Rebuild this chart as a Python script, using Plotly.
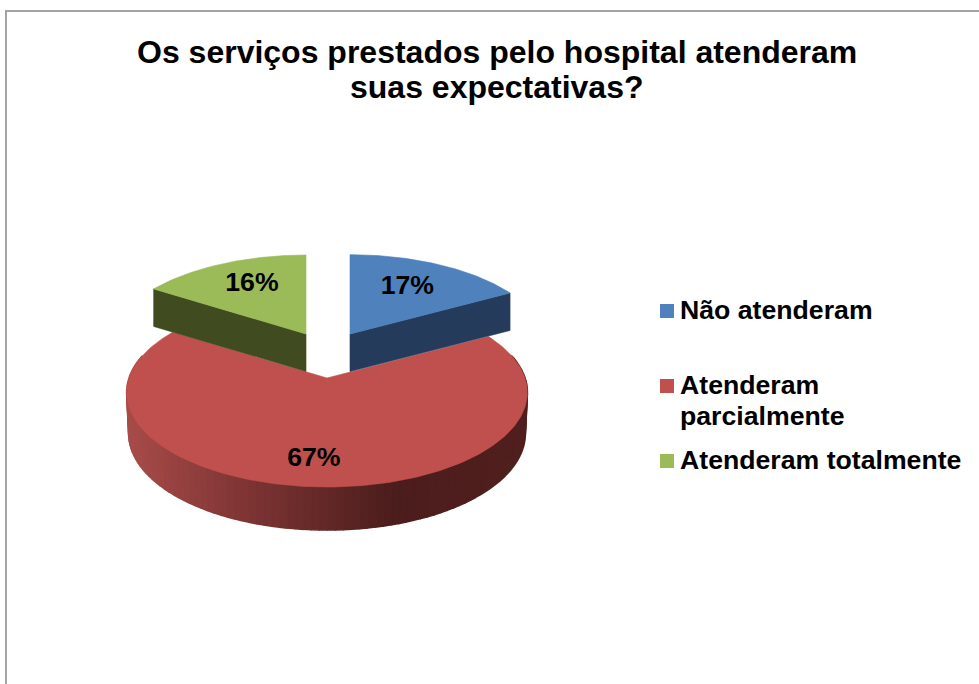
import numpy as np
import plotly.graph_objects as go

title_lines = ["Os serviços prestados pelo hospital atenderam", "suas expectativas?"]
categories = ["Não atenderam", "Atenderam parcialmente", "Atenderam totalmente"]
legend_lines = [["Não atenderam"], ["Atenderam", "parcialmente"], ["Atenderam totalmente"]]
values = [17, 67, 16]
top_colors = ["#4f81bd", "#c0504d", "#9bbb59"]
wall_colors = ["#253b5c", None, "#404b20"]

# slice geometry (axes are in reference pixels)
W, H = 979, 684
A, B, K = 198.0, 92.3, 0.1534
apex_x = [350, 327, 306]
apex_y = [334, 378, 334]
slice_scale = [0.99, 1.0, 0.985]
depth_back, depth_front = 38.0, 43.0
label_r = [0.63, 0.78, 0.66]
label_shift = [-0.7, 2.5, 2]
FONT = "Liberation Sans"


def project(theta_deg, r, cx, cy):
    t = np.radians(theta_deg)
    u = r * np.sin(t)
    v = -r * np.cos(t)
    den = 1 - K * v
    return cx + A * u / den, cy + B * v / den


def depth(theta_deg):
    v = -np.cos(np.radians(theta_deg))
    return (depth_back + depth_front) / 2 + (depth_front - depth_back) / 2 * v


total = sum(values)
edges = np.concatenate([[0], np.cumsum(values) / total * 360])
fig = go.Figure()


def poly(xs, ys, color, name=None, lw=0.6):
    fig.add_trace(go.Scatter(x=xs, y=ys, mode="lines", fill="toself", fillcolor=color,
                             line=dict(color=color, width=lw), hoverinfo="skip",
                             showlegend=False, name=name))


def mix(c1, c2, f):
    return "rgb(%d,%d,%d)" % tuple(round(a + (b - a) * f) for a, b in zip(c1, c2))


# red slice: wall with horizontal gradient, then its top face
s0, s1 = edges[1], edges[2]
cx, cy = apex_x[1], apex_y[1]
stops_x = [125, 243, 393, 530]
stops_c = [(168, 76, 74), (127, 53, 52), (75, 29, 28), (80, 31, 30)]
bands = np.linspace(s0, s1, 121)
for a0, a1 in zip(bands[:-1], bands[1:]):
    ts = np.linspace(a0, a1, 4)
    x, y = project(ts, 1, cx, cy)
    if np.cos(np.radians((a0 + a1) / 2)) > 0.25:
        continue
    d = depth(ts)
    xb = cx + (x - cx) * 0.99
    xm = x.mean()
    i = min(np.searchsorted(stops_x, xm, side="right") - 1, len(stops_x) - 2)
    i = max(i, 0)
    f = np.clip((xm - stops_x[i]) / (stops_x[i + 1] - stops_x[i]), 0, 1)
    poly(list(x) + list(xb[::-1]), list(y) + list((y + d)[::-1]), mix(stops_c[i], stops_c[i + 1], f), lw=1.6)

ts = np.linspace(s0, s1, 240)
x, y = project(ts, 1, cx, cy)
poly([cx] + list(x) + [cx], [cy] + list(y) + [cy], top_colors[1], categories[1])

# exploded slices: cut wall then top face
for idx, (a0, a1, wall_angle) in {0: (edges[0], edges[1], edges[1]), 2: (edges[2], edges[3], edges[2])}.items():
    cx, cy = apex_x[idx], apex_y[idx]
    sc = slice_scale[idx]
    ex, ey = project(wall_angle, sc, cx, cy)
    d_a = 37.5
    poly([cx, ex, ex, cx, cx], [cy, ey, ey + d_a, cy + d_a, cy], wall_colors[idx])
    ts = np.linspace(a0, a1, 80)
    x, y = project(ts, sc, cx, cy)
    poly([cx] + list(x) + [cx], [cy] + list(y) + [cy], top_colors[idx], categories[idx])

# percentage labels
lx, ly, lt = [], [], []
for i, v in enumerate(values):
    mid = (edges[i] + edges[i + 1]) / 2 + label_shift[i]
    px, py = project(mid, label_r[i], apex_x[i], apex_y[i])
    lx.append(px); ly.append(py); lt.append(f"{v}%")
fig.add_trace(go.Scatter(x=lx, y=ly, text=lt, mode="text", textposition="middle center",
                         textfont=dict(family=FONT, size=26.67, color="black"),
                         texttemplate="<b>%{text}</b>", hoverinfo="skip", showlegend=False))

# legend swatches and text
sw_y = [311, 386, 461]
line_step = 31
fig.add_trace(go.Scatter(x=[667] * 3, y=sw_y, mode="markers",
                         marker=dict(symbol="square", size=14, color=top_colors, line=dict(width=0)),
                         hoverinfo="skip", showlegend=False))
annotations = []
for lines, yy in zip(legend_lines, sw_y):
    for j, t in enumerate(lines):
        annotations.append(dict(x=679, y=yy - 1 + j * line_step, xref="x", yref="y", xanchor="left", yanchor="middle",
                                text=f"<b>{t}</b>", showarrow=False, align="left",
                                font=dict(family=FONT, size=26.67, color="black"), borderpad=0))
for t, yy in zip(title_lines, [52, 87]):
    annotations.append(dict(x=497, y=yy, xref="x", yref="y", xanchor="center", yanchor="middle",
                            text=f"<b>{t}</b>", showarrow=False, align="center",
                            font=dict(family=FONT, size=32, color="black")))

fig.update_layout(
    width=W, height=H, margin=dict(l=0, r=0, t=0, b=0),
    paper_bgcolor="white", plot_bgcolor="white", showlegend=False,
    xaxis=dict(range=[0, W], visible=False, fixedrange=True),
    yaxis=dict(range=[H, 0], visible=False, fixedrange=True),
    annotations=annotations,
    shapes=[dict(type="rect", xref="x", yref="y", x0=6, y0=11, x1=W + 20, y1=H + 20,
                 line=dict(color="#a3a3a3", width=2), fillcolor="rgba(0,0,0,0)", layer="below")],
)
fig.write_html("out.html", config={"displayModeBar": False},
               post_script="document.body.style.margin='0';document.body.style.overflow='hidden';")
